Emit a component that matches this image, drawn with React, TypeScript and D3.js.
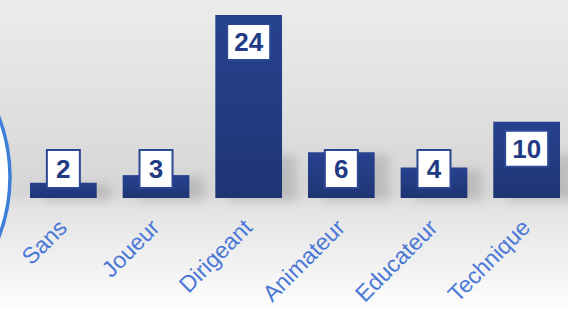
import React from 'react';
import * as d3 from 'd3';

const categories = ["Sans", "Joueur", "Dirigeant", "Animateur", "Educateur", "Technique"];
const values = [2, 3, 24, 6, 4, 10];

const W = 568;
const H = 310;

const App: React.FC = () => {
  // scales
  const x = d3.scaleBand<string>()
    .domain(categories)
    .range([30, 560])
    .paddingInner(0.28)
    .paddingOuter(0);

  const y = d3.scaleLinear()
    .domain([0, 24])
    .range([198, 15]);

  const base = y(0);
  const boxFloor = base - 10; // label boxes never sit lower than this

  return (
    <svg width={W} height={H} style={{ position: "fixed", left: 0, top: 0 }}
      fontFamily="'Liberation Sans', Arial, sans-serif">
      <defs>
        <linearGradient id="bg" x1="0" y1="0" x2="0" y2="1">
          <stop offset="0" stopColor="#ececec" />
          <stop offset="0.62" stopColor="#d6d6d6" />
          <stop offset="0.68" stopColor="#e4e4e4" />
          <stop offset="1" stopColor="#fdfdfd" />
        </linearGradient>
        <linearGradient id="bar" x1="0" y1="0" x2="0" y2="1">
          <stop offset="0" stopColor="#27428f" />
          <stop offset="1" stopColor="#1e3574" />
        </linearGradient>
        <filter id="blur" x="-50%" y="-50%" width="200%" height="200%">
          <feGaussianBlur stdDeviation="5" />
        </filter>
      </defs>

      <rect width={W} height={H} fill="url(#bg)" />

      {/* big circle peeking in on the left */}
      <circle cx={-158} cy={177} r={168} fill="#ffffff" stroke="#3d7fd8" strokeWidth={3.5} />

      {/* shadows */}
      {categories.map((c, i) => {
        const h = Math.min(base - y(values[i]), 45);
        return (
          <rect key={"s" + c} x={x(c)! + 14} y={base - h + 2} width={x.bandwidth()} height={h}
            fill="#8a8a8a" opacity={0.35} filter="url(#blur)" />
        );
      })}

      {/* bars */}
      {categories.map((c, i) => (
        <rect key={"b" + c} x={x(c)} y={y(values[i])} width={x.bandwidth()}
          height={base - y(values[i])} fill="url(#bar)" />
      ))}

      {/* value boxes */}
      {categories.map((c, i) => {
        const label = String(values[i]);
        const bw = label.length > 1 ? 43 : 33;
        const bh = label.length > 1 ? 36 : 38;
        const cx = x(c)! + x.bandwidth() / 2;
        const top = Math.min(y(values[i]) + 9, boxFloor - bh);
        return (
          <g key={"l" + c}>
            <rect x={cx - bw / 2} y={top} width={bw} height={bh}
              fill="#ffffff" stroke="#2c4793" strokeWidth={2} />
            <text x={cx} y={top + bh / 2 + 9} textAnchor="middle" fontSize={26}
              fontWeight="bold" fill="#233b84">{label}</text>
          </g>
        );
      })}

      {/* category labels */}
      {categories.map(c => {
        const cx = x(c)! + x.bandwidth() / 2;
        return (
          <text key={"t" + c} transform={`translate(${cx + 5},${229}) rotate(-45)`}
            textAnchor="end" fontSize={23} fill="#4a78d6">{c}</text>
        );
      })}
    </svg>
  );
};

export default App;
